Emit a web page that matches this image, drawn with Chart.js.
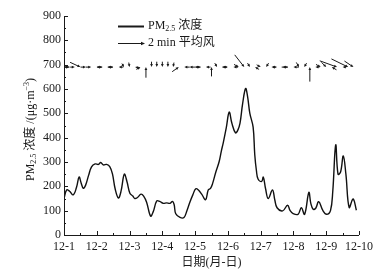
<!DOCTYPE html>
<html>
<head>
<meta charset="utf-8">
<script src="https://cdn.jsdelivr.net/npm/chart.js@4/dist/chart.umd.min.js"></script>
<style>
html,body{margin:0;padding:0;background:#fff;}
#wrap{width:382px;height:275px;position:relative;}
</style>
</head>
<body>
<div id="wrap"><canvas id="c"></canvas></div>
<script>
// ---- data (days after 12-1 00:00) ----
const dayLabels = ['12-1','12-2','12-3','12-4','12-5','12-6','12-7','12-8','12-9','12-10'];
const pmTime = [0.0,0.08,0.17,0.28,0.38,0.46,0.52,0.59,0.66,0.75,0.84,0.95,1.05,1.12,1.2,1.3,1.4,1.48,1.56,1.66,1.74,1.84,1.92,2.01,2.1,2.16,2.25,2.35,2.43,2.52,2.64,2.72,2.83,2.92,3.03,3.13,3.23,3.31,3.36,3.41,3.54,3.66,3.75,3.84,3.93,4.02,4.1,4.2,4.32,4.4,4.47,4.53,4.63,4.73,4.8,4.86,4.95,5.04,5.12,5.23,5.3,5.37,5.45,5.54,5.6,5.67,5.77,5.82,5.87,5.92,6.03,6.08,6.15,6.23,6.36,6.43,6.5,6.67,6.82,6.9,6.99,7.14,7.24,7.34,7.47,7.53,7.6,7.68,7.77,7.9,8.01,8.13,8.2,8.29,8.36,8.44,8.52,8.6,8.7,8.82,8.92];
const pmValue = [150,185,180,165,195,238,215,192,205,245,280,292,290,298,288,290,280,250,190,152,180,250,220,172,160,150,155,168,160,135,78,95,140,138,130,132,130,138,125,87,72,72,100,135,165,190,185,168,145,185,192,210,258,300,345,380,440,505,460,420,430,460,540,602,570,500,443,330,265,230,220,238,190,150,185,145,112,99,122,100,88,85,112,85,175,130,106,110,137,100,85,100,180,370,250,260,325,250,113,148,102];
// wind: time (day), direction the arrow points (deg, 0 = east, 90 = north), speed (m/s)
const windTime  = [0.0,0.17,0.33,0.5,0.67,0.83,1.0,1.17,1.33,1.5,1.67,1.83,2.0,2.17,2.33,2.5,2.67,2.83,3.0,3.17,3.33,3.5,3.67,3.83,4.0,4.17,4.33,4.5,4.67,4.83,5.0,5.17,5.33,5.5,5.67,5.83,6.0,6.17,6.33,6.5,6.67,6.83,7.0,7.17,7.33,7.5,7.67,7.83,8.0,8.17,8.33,8.5,8.67,8.83];
const windDir   = [180,0,0,-25,0,0,180,0,180,0,180,-60,-80,170,30,90,-90,-90,-90,-90,-100,35,180,180,180,0,180,90,-60,180,0,180,-30,-52,-60,150,-30,-120,180,0,180,0,180,-60,-120,90,180,-30,-45,150,-20,180,-26,-34];
const windSpeed = [1.5,1.2,1.2,3.8,1.5,1.5,1.5,1.5,1.5,1.5,1.2,1.0,1.2,1.2,1.2,3.5,1.5,1.5,1.5,1.5,1.2,2.5,1.5,1.5,1.5,1.5,1.2,3.0,1.2,1.2,1.5,1.2,1.5,5.4,1.2,1.2,1.2,1.2,0.8,0.8,1.5,1.8,1.5,1.5,1.2,5.0,1.0,1.5,2.0,1.5,6.5,0.8,6.6,3.6];
const windRowValue = 690;

const SERIF = '"Liberation Serif", "Noto Sans CJK SC", serif';
const INK = '#1a1a1a';

function drawRich(ctx, parts, x, y, align) {
  // parts: [text, size, dy]
  let w = 0;
  parts.forEach(p => { ctx.font = p[1] + 'px ' + SERIF; w += ctx.measureText(p[0]).width; });
  let cx = align === 'center' ? x - w / 2 : x;
  parts.forEach(p => {
    ctx.font = p[1] + 'px ' + SERIF;
    ctx.fillText(p[0], cx, y + p[2]);
    cx += ctx.measureText(p[0]).width;
  });
}

function arrow(ctx, tx, ty, ang, len, head) {
  const r = ang * Math.PI / 180;
  const ux = Math.cos(r), uy = -Math.sin(r);
  const sx = tx - ux * len, sy = ty - uy * len;
  ctx.beginPath(); ctx.moveTo(sx, sy); ctx.lineTo(tx - ux * head * 0.6, ty - uy * head * 0.6); ctx.stroke();
  const px = -uy, py = ux;
  ctx.beginPath();
  ctx.moveTo(tx, ty);
  ctx.lineTo(tx - ux * head + px * head * 0.45, ty - uy * head + py * head * 0.45);
  ctx.lineTo(tx - ux * head - px * head * 0.45, ty - uy * head - py * head * 0.45);
  ctx.closePath(); ctx.fill();
}

const decor = {
  id: 'decor',
  afterDraw(chart) {
    const { ctx, scales: { x, y }, chartArea: a } = chart;
    ctx.save();
    ctx.strokeStyle = INK; ctx.fillStyle = INK; ctx.lineWidth = 1;
    // axes
    ctx.beginPath();
    ctx.moveTo(a.left + 0.5, a.top); ctx.lineTo(a.left + 0.5, a.bottom + 0.5);
    ctx.lineTo(a.right, a.bottom + 0.5);
    ctx.stroke();
    // inward ticks
    ctx.beginPath();
    for (let v = 0; v <= 900; v += 50) {
      const py = Math.round(y.getPixelForValue(v)) + 0.5;
      const len = v % 100 === 0 ? 4 : 2;
      ctx.moveTo(a.left, py); ctx.lineTo(a.left + len, py);
    }
    for (let d = 0; d <= 9; d += 0.5) {
      const px = Math.round(x.getPixelForValue(d)) + 0.5;
      const len = d % 1 === 0 ? 4 : 2;
      ctx.moveTo(px, a.bottom); ctx.lineTo(px, a.bottom - len);
    }
    ctx.stroke();
    // wind arrows
    ctx.lineWidth = 1;
    const rowY = y.getPixelForValue(windRowValue);
    for (let i = 0; i < windTime.length; i++) {
      const tx = x.getPixelForValue(windTime[i]);
      const len = 1.5 + windSpeed[i] * 2.6;
      arrow(ctx, tx, rowY, windDir[i], len, 3);
    }
    // legend
    ctx.lineWidth = 2;
    ctx.beginPath(); ctx.moveTo(118, 26.5); ctx.lineTo(144, 26.5); ctx.stroke();
    ctx.lineWidth = 1;
    arrow(ctx, 145, 43.5, 0, 27, 4);
    ctx.textBaseline = 'middle';
    drawRich(ctx, [['PM', 12, 0], ['2.5', 8, 3], [' 浓度', 12, 0]], 148, 26, 'left');
    drawRich(ctx, [['2 min 平均风', 12, 0]], 148, 43, 'left');
    // y title
    ctx.save();
    ctx.translate(31, (a.top + a.bottom) / 2 + 4);
    ctx.rotate(-Math.PI / 2);
    drawRich(ctx, [['PM', 12, 0], ['2.5', 8, 3], [' 浓度 /(μg·m', 12, 0], ['−3', 8, -4], [')', 12, 0]], 0, 0, 'center');
    ctx.restore();
    // x title
    drawRich(ctx, [['日期(月-日)', 12, 0]], (a.left + a.right) / 2, 263, 'center');
    ctx.restore();
  }
};

new Chart(document.getElementById('c'), {
  type: 'line',
  data: {
    datasets: [{
      label: 'PM2.5 浓度',
      data: pmTime.map((t, i) => ({ x: t, y: pmValue[i] })),
      borderColor: '#111',
      borderWidth: 1.4,
      pointRadius: 0,
      tension: 0.4,
      fill: false
    }]
  },
  options: {
    responsive: true,
    maintainAspectRatio: false,
    animation: false,
    layout: { padding: { left: 0, right: 23, top: 16, bottom: 0 } },
    plugins: { legend: { display: false }, tooltip: { enabled: false } },
    scales: {
      x: {
        type: 'linear', min: 0, max: 9,
        grid: { display: false, drawTicks: false },
        border: { display: false },
        afterFit: s => { s.height = 40; },
        afterBuildTicks: s => { s.ticks = dayLabels.map((_, i) => ({ value: i })); },
        ticks: {
          padding: 5, color: INK, maxRotation: 0, autoSkip: false,
          font: { family: SERIF, size: 12 },
          callback: v => dayLabels[v]
        }
      },
      y: {
        min: 0, max: 900,
        grid: { display: false, drawTicks: false },
        border: { display: false },
        afterFit: s => { s.width = 64; },
        ticks: {
          stepSize: 100, padding: 3, color: INK,
          font: { family: SERIF, size: 12 }
        }
      }
    }
  },
  plugins: [decor]
});
</script>
</body>
</html>
